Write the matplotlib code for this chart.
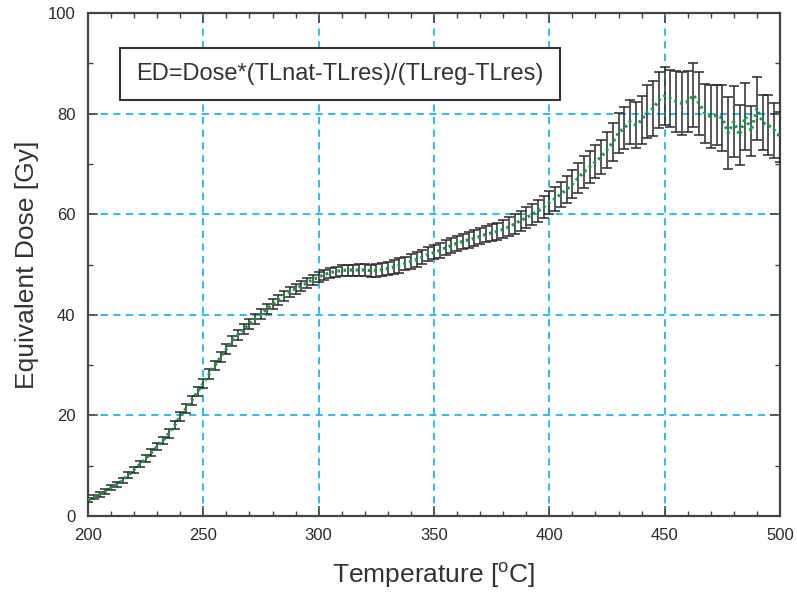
import matplotlib
matplotlib.use("Agg")
import matplotlib.pyplot as plt
from matplotlib.patches import Rectangle
from matplotlib.ticker import MultipleLocator

plt.rcParams['font.family'] = ['Liberation Sans', 'DejaVu Sans']

# Temperature [°C], 2.5 °C steps from 200 to 500
temperature = [200 + 2.5 * i for i in range(121)]

equivalent_dose = [
    3.2, 3.7, 4.3, 4.9, 5.6, 6.3, 7.1, 8.1, 9.2, 10.3,
    11.4, 12.6, 13.8, 15.0, 16.4, 18.0, 19.8, 21.4, 23.0, 24.7,
    26.4, 28.2, 29.9, 31.6, 33.2, 34.7, 36.0, 37.2, 38.2, 39.2,
    40.2, 41.2, 42.1, 43.0, 43.8, 44.5, 45.2, 45.8, 46.4, 47.0,
    47.5, 48.0, 48.4, 48.6, 48.8, 48.9, 48.9, 48.9, 48.9, 48.8,
    48.8, 49.0, 49.2, 49.5, 49.8, 50.2, 50.6, 51.0, 51.5, 52.0,
    52.4, 52.8, 53.3, 53.8, 54.2, 54.6, 54.9, 55.2, 55.6, 56.0,
    56.3, 56.6, 57.0, 57.5, 58.1, 58.7, 59.3, 59.9, 60.6, 61.4,
    62.3, 63.1, 64.0, 64.9, 66.0, 67.2, 68.4, 69.4, 70.4, 71.4,
    72.8, 74.3, 76.2, 77.1, 78.4, 77.7, 78.7, 80.4, 81.0, 82.7,
    83.5, 83.0, 82.4, 82.0, 82.4, 83.7, 82.0, 80.0, 79.4, 79.7,
    79.1, 76.1, 78.4, 75.7, 79.4, 76.5, 81.0, 78.2, 77.7, 76.7,
    75.4,
]

dose_error = [
    0.4, 0.4, 0.45, 0.45, 0.5, 0.5, 0.55, 0.6, 0.6, 0.65,
    0.7, 0.7, 0.75, 0.75, 0.8, 0.8, 0.85, 0.85, 0.9, 0.9,
    0.9, 0.95, 0.95, 1.0, 1.0, 1.0, 1.0, 1.0, 1.0, 1.0,
    1.0, 1.0, 1.0, 1.0, 1.0, 1.0, 1.0, 1.0, 1.0, 1.0,
    1.0, 1.0, 1.0, 1.0, 1.05, 1.1, 1.1, 1.15, 1.2, 1.2,
    1.3, 1.2, 1.3, 1.3, 1.4, 1.3, 1.4, 1.4, 1.4, 1.4,
    1.4, 1.5, 1.5, 1.5, 1.5, 1.5, 1.6, 1.6, 1.6, 1.6,
    1.7, 1.7, 1.8, 1.9, 2.0, 2.0, 2.1, 2.1, 2.2, 2.2,
    2.3, 2.4, 2.5, 2.6, 2.8, 3.0, 3.1, 3.2, 3.3, 3.4,
    3.6, 3.8, 4.0, 4.2, 4.4, 4.6, 4.8, 5.2, 5.5, 5.6,
    5.8, 5.7, 6.0, 6.3, 6.0, 6.4, 6.2, 5.8, 6.2, 6.0,
    6.5, 7.2, 7.0, 6.0, 6.6, 5.0, 6.2, 5.5, 6.0, 5.5,
    5.0,
]

x_ticks = [200, 250, 300, 350, 400, 450, 500]
y_ticks = [0, 20, 40, 60, 80, 100]
formula_text = "ED=Dose*(TLnat-TLres)/(TLreg-TLres)"

fig = plt.figure(figsize=(7.97, 5.93), dpi=100)
ax = fig.add_axes([88/797, 1 - 516/593, 692/797, 503/593])

grid_color = '#22b4ec'
ax.set_axisbelow(True)
ax.grid(True, which='major', color=grid_color, linestyle=(0, (4, 3)), linewidth=1.3)

ax.errorbar(temperature, equivalent_dose, yerr=dose_error, fmt='none',
            ecolor='#2a2a2a', elinewidth=1.1, capsize=3.4, capthick=1.1, zorder=3)
ax.plot(temperature, equivalent_dose, color='#159a4a', linestyle=(0, (0.8, 1.1)),
        linewidth=2.3, zorder=4)

ax.set_xlim(200, 500)
ax.set_ylim(0, 100)
ax.set_xticks(x_ticks)
ax.set_yticks(y_ticks)
ax.xaxis.set_minor_locator(MultipleLocator(10))
ax.yaxis.set_minor_locator(MultipleLocator(10))
ax.tick_params(which='both', direction='in', top=True, right=True, color='#444444')
ax.tick_params(which='major', length=7, width=1.1, labelsize=12, labelcolor='#2a2a2a')
ax.tick_params(axis='x', which='major', pad=9)
ax.tick_params(axis='y', which='major', pad=9)
ax.tick_params(which='minor', length=3.5, width=1.0)
for s in ax.spines.values():
    s.set_color('#444444')
    s.set_linewidth(1.6)

ax.set_xlabel('Temperature [$^{\\mathregular{o}}$C]', fontsize=19, color='#333333', labelpad=12)
ax.set_ylabel('Equivalent Dose [Gy]', fontsize=19, color='#333333', labelpad=6)

x0 = (120 - 88) / 692
x1 = (560 - 88) / 692
y0 = (516 - 100) / 503
y1 = (516 - 48) / 503
ax.add_patch(Rectangle((x0, y0), x1 - x0, y1 - y0, transform=ax.transAxes,
                       facecolor='white', edgecolor='#333333', linewidth=1.5, zorder=5))
ax.text((x0 + x1) / 2, (y0 + y1) / 2, formula_text, transform=ax.transAxes,
        ha='center', va='center', fontsize=17, color='#333333', zorder=6)

fig.savefig('out.png', dpi=100)
